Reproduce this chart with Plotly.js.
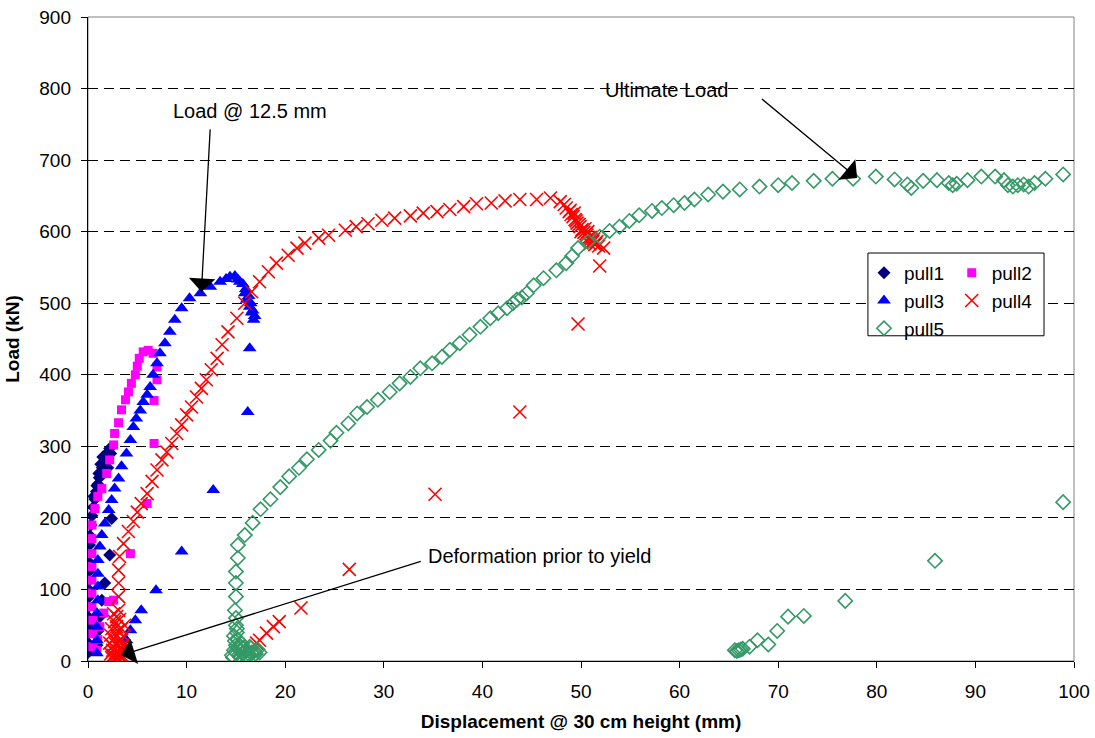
<!DOCTYPE html>
<html>
<head>
<meta charset="utf-8">
<script src="https://cdn.plot.ly/plotly-3.0.1.min.js"></script>
<style>html,body{margin:0;padding:0;background:#fff;}#chart{width:1095px;height:738px;}</style>
</head>
<body>
<div id="chart"></div>
<script>
// ---- data ----
const pull1X = [0.0,0.0,0.0,0.0,0.0,0.0,0.0,0.05,0.05,0.1,0.1,0.1,0.15,0.2,0.3,0.4,0.55,0.7,0.85,1.0,1.15,1.3,1.45,1.6,1.75,1.9,2.05,2.2,2.3,1.5,1.8,2.0,1.3,0.6,0.9,1.1,2.4,2.2,1.7,1.4,1.2,1.0,0.9];
const pull1Y = [12,25,38,50,62,75,88,100,112,125,138,150,162,175,190,203,215,226,237,247,256,263,270,276,282,288,292,297,290,285,280,270,275,230,245,262,199,148,109,85,62,42,22];

const pull2X = [0.5,0.5,0.5,0.4,0.4,0.4,0.4,0.4,0.4,0.4,0.7,1.0,1.4,1.9,2.2,2.6,2.7,3.1,3.4,3.8,4.1,4.4,4.8,5.0,5.2,5.6,6.1,6.6,7.0,7.0,6.7,6.7,6.0,4.3,2.6,2.1,1.6,1.2,1.0,0.9];
const pull2Y = [20,38,57,76,95,113,132,150,171,190,213,230,241,262,281,302,318,333,351,365,376,388,400,412,423,432,434,430,411,393,364,304,220,150,85,83,67,48,30,15];

const pull3X = [0.9,0.9,0.9,0.9,1.0,1.0,1.0,1.0,1.2,1.4,1.7,2.1,2.4,2.7,3.1,3.4,3.9,4.3,4.6,4.9,5.3,5.6,6.0,6.3,6.6,7.0,7.3,7.8,8.3,8.8,9.5,10.3,11.4,12.4,13.4,14.0,14.4,14.9,15.2,15.4,15.7,15.9,16.0,16.1,16.3,16.4,16.5,16.6,16.7,16.8,16.9,16.4,16.2,12.7,9.5,6.9,5.4,4.8,4.3,3.9,3.8];
const pull3Y = [11,29,48,67,85,104,122,141,160,176,192,211,225,241,255,272,290,309,327,339,350,362,372,383,400,416,430,444,460,477,493,507,514,523,530,534,537,538,533,530,527,514,520,505,510,495,500,487,490,477,482,437,348,239,153,99,71,57,43,29,18];

const pull4X = [2.3,2.5,2.8,3.0,3.3,2.6,2.9,3.2,3.5,2.4,2.7,3.0,3.6,3.8,2.6,3.1,3.4,2.2,3.7,2.4,2.7,3.0,3.3,3.6,2.5,2.8,3.1,3.4,2.3,3.5,2.9,3.2,2.6,2.9,3.1,3.1,3.1,3.1,3.2,3.6,4.1,4.6,5.0,5.4,6.0,6.5,7.0,7.5,8.0,8.5,9.0,9.5,10.0,10.5,11.0,11.5,12.0,12.5,13.1,13.6,14.2,15.1,15.9,16.6,17.4,18.3,19.1,20.3,21.2,22.0,23.4,24.4,26.1,27.2,28.4,29.8,31.1,32.7,34.0,35.4,36.7,38.1,39.4,40.9,42.3,43.8,45.5,46.9,47.9,48.3,48.5,48.8,49.0,49.2,49.4,49.6,49.9,50.1,50.3,50.6,50.8,51.0,51.2,51.5,51.8,52.3,49.5,50.0,50.5,51.0,49.8,50.4,51.3,50.9,51.6,48.9,49.3,50.7,51.4,51.9,49.7,43.8,35.2,26.5,21.6,19.4,18.8,18.1,17.4,17.1];
const pull4Y = [10,15,12,20,18,30,35,28,22,45,55,42,35,12,8,8,45,25,50,5,6,5,7,6,20,24,14,30,36,14,62,58,66,48,71,90,109,127,146,164,181,195,208,220,234,251,267,281,292,304,318,330,344,355,369,381,393,407,423,442,460,479,500,516,530,544,556,567,577,584,591,595,602,607,611,616,619,622,626,628,631,635,639,640,643,645,645,647,642,638,633,628,624,621,617,612,607,603,599,595,592,589,586,583,580,577,615,600,597,592,610,604,590,583,586,630,626,600,582,552,471,348,233,128,74,55,48,39,29,25];

const pull5X = [14.6,14.8,15.0,15.0,15.3,15.5,15.7,16.0,16.3,16.6,16.9,17.2,15.2,15.1,15.0,15.0,15.5,16.1,16.5,17.0,14.7,14.9,15.2,15.4,15.8,16.2,16.8,17.4,15.6,16.4,14.8,15.1,14.9,15.0,15.0,15.0,15.2,15.2,15.9,16.7,17.5,18.5,19.5,20.4,21.4,22.2,23.4,24.6,25.2,26.4,27.3,28.3,29.4,30.6,31.6,32.7,33.7,34.9,35.9,36.7,37.7,38.7,39.8,40.8,41.6,42.5,43.1,43.5,44.0,44.5,45.2,46.2,47.5,48.5,49.1,49.7,50.7,51.9,52.9,53.9,54.9,55.9,57.2,58.2,59.4,60.5,61.5,62.9,64.4,66.1,68.1,70.0,71.4,73.6,75.5,77.6,79.9,81.8,83.1,83.5,84.7,86.1,87.3,87.7,88.1,89.2,90.6,92.0,92.9,93.3,93.8,94.3,94.9,95.4,96.0,97.1,98.9,98.9,85.9,76.8,72.6,71.0,69.9,69.0,67.9,67.1,66.4,66.0,65.8,66.2,65.6];
const pull5Y = [8,15,22,12,8,14,10,8,10,12,14,16,30,40,50,60,20,15,18,10,5,28,18,6,18,6,8,12,24,20,35,45,71,90,109,125,144,162,176,193,212,226,243,258,270,282,295,308,319,332,346,355,365,376,388,397,409,416,425,435,444,456,467,479,486,493,500,505,508,514,525,535,546,556,566,577,586,593,601,607,615,623,629,633,637,640,645,652,656,659,663,665,668,671,674,674,677,673,666,661,671,672,668,665,667,672,677,677,672,665,663,665,666,663,668,674,680,222,140,84,63,62,42,23,29,20,17,15,14,16,15];

const xTicks = [0,10,20,30,40,50,60,70,80,90,100];
const yTicks = [0,100,200,300,400,500,600,700,800,900];

const FONT = 'Liberation Sans, Arial, sans-serif';

const traces = [
  {name:'pull1', x:pull1X, y:pull1Y, mode:'markers', type:'scatter', legend:'legend',
   marker:{symbol:'diamond', size:10, color:'#000080'}},
  {name:'pull2', x:pull2X, y:pull2Y, mode:'markers', type:'scatter', legend:'legend2',
   marker:{symbol:'square', size:9, color:'#FF00FF'}},
  {name:'pull3', x:pull3X, y:pull3Y, mode:'markers', type:'scatter', legend:'legend',
   marker:{symbol:'triangle-up', size:12, color:'#0000FF'}},
  {name:'pull4', x:pull4X, y:pull4Y, mode:'markers', type:'scatter', legend:'legend2',
   marker:{symbol:'x-thin-open', size:13, color:'#FF0000', line:{color:'#FF0000', width:1.6}}},
  {name:'pull5', x:pull5X, y:pull5Y, mode:'markers', type:'scatter', legend:'legend',
   marker:{symbol:'diamond-open', size:11, color:'#339966', line:{color:'#339966', width:1.6}}}
];

const legendCommon = {
  font:{family:FONT, size:19, color:'#000'},
  bgcolor:'rgba(0,0,0,0)', borderwidth:0,
  xanchor:'left', yanchor:'top', traceorder:'normal', itemwidth:30
};

const layout = {
  width:1095, height:738,
  margin:{l:88, r:21, t:17, b:77, pad:0},
  paper_bgcolor:'#fff', plot_bgcolor:'#fff',
  font:{family:FONT, size:19, color:'#000'},
  xaxis:{range:[0,100], tickvals:xTicks, ticktext:xTicks.map(String),
    ticks:'outside', ticklen:6, tickcolor:'#000', tickwidth:1,
    showline:true, linecolor:'#000', linewidth:1.2, showgrid:false, zeroline:false,
    tickfont:{family:FONT, size:19, color:'#000'}, ticklabelstandoff:7,
    title:{text:'<b>Displacement @ 30 cm height (mm)</b>', font:{family:FONT, size:19, color:'#000'}, standoff:13}},
  yaxis:{range:[0,900], tickvals:yTicks, ticktext:yTicks.map(String),
    ticks:'outside', ticklen:6, tickcolor:'#000', tickwidth:1,
    showline:true, linecolor:'#000', linewidth:1.2, showgrid:true, gridcolor:'#000', gridwidth:1,
    griddash:'10px,6px', zeroline:false,
    tickfont:{family:FONT, size:19, color:'#000'}, ticklabelstandoff:6,
    title:{text:'<b>Load (kN)</b>', font:{family:FONT, size:19, color:'#000'}, standoff:14}},
  showlegend:true,
  legend:Object.assign({x:0.787, y:0.632}, legendCommon),
  legend2:Object.assign({x:0.876, y:0.632}, legendCommon),
  shapes:[
    {type:'rect', xref:'paper', yref:'paper', x0:0, x1:1, y0:0, y1:1, line:{color:'#808080', width:1}, layer:'below'},
    {type:'rect', xref:'paper', yref:'paper', x0:0.791, x1:0.9696, y0:0.505, y1:0.6335, line:{color:'#000', width:1}, fillcolor:'#fff', layer:'above'}
  ],
  annotations:[
    {x:11.5, y:516, ax:12.4, ay:745, axref:'x', ayref:'y', xref:'x', yref:'y', text:'', showarrow:true,
     arrowhead:1, arrowsize:3.4, arrowwidth:1.3, arrowcolor:'#000', standoff:0},
    {x:78.0, y:675, ax:68.2, ay:787, axref:'x', ayref:'y', xref:'x', yref:'y', text:'', showarrow:true,
     arrowhead:1, arrowsize:3.4, arrowwidth:1.3, arrowcolor:'#000', standoff:0},
    {x:3.4, y:8, ax:33.9, ay:140, axref:'x', ayref:'y', xref:'x', yref:'y', text:'', showarrow:true,
     arrowhead:1, arrowsize:3.4, arrowwidth:1.3, arrowcolor:'#000', standoff:0},
    {x:16.4, y:769, xref:'x', yref:'y', text:'Load @ 12.5 mm', showarrow:false,
     font:{family:FONT, size:20, color:'#000'}, bgcolor:'#fff'},
    {x:58.7, y:798, xref:'x', yref:'y', text:'Ultimate Load', showarrow:false,
     font:{family:FONT, size:20, color:'#000'}},
    {x:45.8, y:147, xref:'x', yref:'y', text:'Deformation prior to yield', showarrow:false,
     font:{family:FONT, size:20, color:'#000'}}
  ]
};

Plotly.newPlot('chart', traces, layout, {displayModeBar:false, staticPlot:true});
</script>
</body>
</html>
